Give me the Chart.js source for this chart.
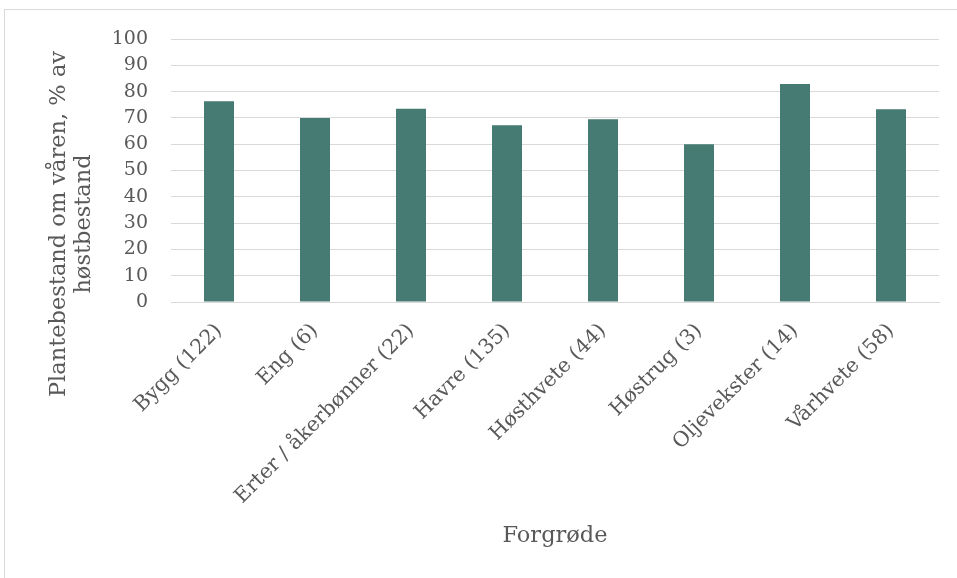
<!DOCTYPE html>
<html lang="no">
<head>
<meta charset="utf-8">
<title>Plantebestand om våren</title>
<script src="https://cdn.jsdelivr.net/npm/chart.js@4"></script>
<style>
  html, body { margin: 0; padding: 0; background: #fff; overflow: hidden; }
  .frame {
    position: absolute; left: 4px; top: 9px; width: 1000px; height: 1000px;
    border-top: 1px solid #d9d9d9; border-left: 1px solid #d9d9d9;
  }
  #plantChart { position: absolute; left: 0; top: 0; }
</style>
</head>
<body>
<div class="frame"></div>
<canvas id="plantChart" width="957" height="578"></canvas>
<script>
// data
const forgrode = ['Bygg (122)', 'Eng (6)', 'Erter / åkerbønner (22)', 'Havre (135)',
                  'Høsthvete (44)', 'Høstrug (3)', 'Oljevekster (14)', 'Vårhvete (58)'];
const plantebestand = [76.3, 70, 73.5, 67.2, 69.5, 60, 82.9, 73.3];
const yTicks = [0, 10, 20, 30, 40, 50, 60, 70, 80, 90, 100];
const yTitle = ['Plantebestand om våren, % av', 'høstbestand'];
const xTitle = 'Forgrøde';

const textColor = '#595959';
const gridColor = '#d9d9d9';
const serif = "'DejaVu Serif', 'Liberation Serif', serif";

// y-title drawn by hand so it sits where the original has it
const yTitlePlugin = {
  id: 'yTitle',
  afterDraw(chart) {
    const c = chart.ctx;
    c.save();
    c.translate(72, 224);
    c.rotate(-Math.PI / 2);
    c.font = '22.5px ' + serif;
    c.fillStyle = textColor;
    c.textAlign = 'center';
    c.textBaseline = 'middle';
    c.fillText(yTitle[0], 0, -13);
    c.fillText(yTitle[1], 0, 12);
    c.restore();
  }
};

const ctx = document.getElementById('plantChart').getContext('2d');
const plantChart = new Chart(ctx, {
  type: 'bar',
  data: {
    labels: forgrode,
    datasets: [{
      label: 'Plantebestand',
      data: plantebestand,
      backgroundColor: '#457b72',
      borderWidth: 0,
      categoryPercentage: 1,
      barPercentage: 0.3125
    }]
  },
  options: {
    responsive: false,
    animation: false,
    layout: { padding: { top: 39, right: 18, bottom: 0, left: 0 } },
    plugins: {
      legend: { display: false },
      tooltip: { enabled: false }
    },
    scales: {
      x: {
        grid: { display: false },
        border: { color: gridColor, width: 1 },
        ticks: {
          color: textColor,
          font: { family: serif, size: 20.5 },
          minRotation: 45,
          maxRotation: 45,
          padding: 9
        },
        title: {
          display: true,
          text: xTitle,
          color: textColor,
          font: { family: serif, size: 22.5 },
          padding: { top: 0, bottom: 28 }
        },
        afterFit(scale) { scale.height = 276; }
      },
      y: {
        min: 0,
        max: 100,
        afterBuildTicks(scale) { scale.ticks = yTicks.map(v => ({ value: v })); },
        grid: { color: gridColor, lineWidth: 1, drawTicks: false },
        border: { display: false },
        ticks: {
          color: textColor,
          font: { family: serif, size: 19 },
          padding: 23
        },
        afterFit(scale) { scale.width = 171; }
      }
    }
  },
  plugins: [yTitlePlugin]
});
</script>
</body>
</html>
